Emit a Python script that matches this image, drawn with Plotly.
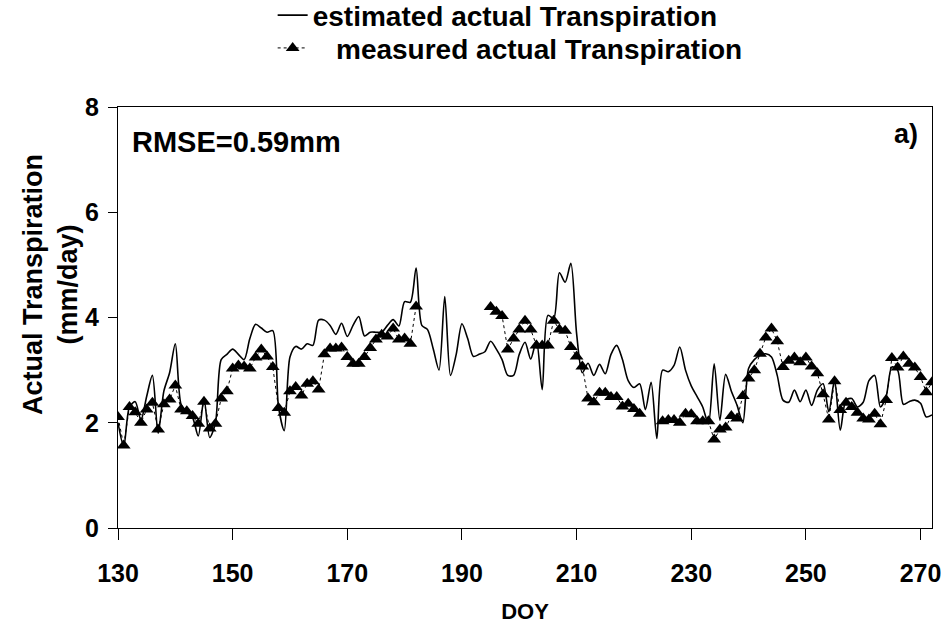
import plotly.graph_objects as go

# ---- data ----
est_doy = list(range(130, 273))
est_vals = [
    2.0, 1.55, 2.3, 2.4, 2.05, 2.5, 2.9, 1.8, 2.6, 2.95,      # 130-139
    3.5, 2.35, 2.2, 2.1, 1.75, 2.45, 1.72, 2.0, 3.2, 3.3,     # 140-149
    3.4, 3.3, 3.2, 3.6, 3.87, 3.8, 3.72, 3.75, 2.3, 1.85,     # 150-159
    3.25, 3.45, 3.4, 3.5, 3.47, 3.95, 3.95, 3.85, 3.68, 3.89, # 160-169
    3.64, 3.85, 4.02, 3.65, 3.72, 3.72, 3.72, 3.85, 3.96, 3.84,  # 170-179
    4.3, 4.29, 4.94, 3.85, 3.77, 3.4, 3.0, 4.4, 2.9, 3.3,     # 180-189
    3.88, 3.6, 3.26, 3.3, 3.35, 3.55, 3.4, 3.2, 2.9, 2.9,     # 190-199
    3.3, 3.53, 3.21, 3.56, 2.63, 4.04, 3.98, 4.85, 4.67, 5.03,  # 200-209
    3.7, 2.95, 3.13, 2.9, 3.11, 2.93, 3.3, 3.47, 3.2, 2.8,    # 210-219
    2.67, 2.74, 2.25, 2.77, 1.7, 3.0, 2.97, 3.09, 3.44, 3.0,  # 220-229
    2.7, 2.5, 2.3, 1.98, 3.12, 2.05, 2.92, 2.6, 2.33, 2.0,    # 230-239
    3.03, 3.2, 3.28, 3.31, 3.25, 2.9, 2.43, 2.39, 2.62, 2.4,  # 240-249
    2.62, 2.33, 2.62, 2.74, 2.21, 2.81, 1.86, 2.43, 2.46, 2.3,  # 250-259
    2.39, 2.8, 2.9, 2.3, 2.5, 3.06, 3.0, 2.35, 2.4, 2.43,     # 260-269
    2.37, 2.11, 2.15,                                         # 270-272
]

meas_doy = list(range(130, 273))
meas_vals = [
    2.11, 1.57, 2.30, 2.20, 2.00, 2.25, 2.38, 1.87, 2.35, 2.44,   # 130-139
    2.71, 2.25, 2.22, 2.13, 1.98, 2.40, 1.89, 1.98, 2.46, 2.60,   # 140-149
    3.03, 3.09, 3.07, 3.03, 3.24, 3.39, 3.26, 3.06, 2.28, 2.19,   # 150-159
    2.60, 2.68, 2.52, 2.74, 2.79, 2.63, 3.30, 3.41, 3.41, 3.43,   # 160-169
    3.25, 3.12, 3.12, 3.25, 3.42, 3.58, 3.67, 3.64, 3.79, 3.58,   # 170-179
    3.60, 3.50, 4.21, None, None, None, None, None, None, None,   # 180-189
    None, None, None, None, None, 4.20, 4.11, 4.03, 3.39, 3.60,   # 190-199
    3.77, 3.94, 3.77, 3.47, 3.47, 3.47, 3.94, 3.77, 3.75, 3.44,   # 200-209
    3.26, 3.07, 2.46, 2.39, 2.57, 2.57, 2.49, 2.49, 2.31, 2.36,   # 210-219
    2.26, 2.17, None, None, None, 2.03, 2.05, 2.05, 2.00, 2.17,   # 220-229
    2.16, 2.03, 2.03, 2.03, 1.68, 1.87, 1.91, 2.13, 2.08, 2.51,   # 230-239
    2.84, 3.00, 3.31, 3.62, 3.79, 3.55, 3.06, 3.18, 3.24, 3.15,   # 240-249
    3.24, 3.07, 2.94, 2.54, 2.06, 2.79, 2.24, 2.38, 2.30, 2.19,   # 250-259
    2.08, 2.06, 2.17, 1.97, 2.43, 3.23, 3.05, 3.26, 3.12, 3.05,   # 260-269
    2.87, 2.58, 2.77,                                             # 270-272
]

x_ticks = [130, 150, 170, 190, 210, 230, 250, 270]
y_ticks = [0, 2, 4, 6, 8]

FONT = "Liberation Sans Narrow, Arial Narrow, Liberation Sans, Arial, sans-serif"
WIDE = "Liberation Sans, Arial, sans-serif"

fig = go.Figure()
fig.add_trace(go.Scatter(
    x=est_doy, y=est_vals, mode="lines",
    name="estimated actual Transpiration", legend="legend",
    line=dict(color="black", width=1.6, shape="spline", smoothing=0.8),
))
fig.add_trace(go.Scatter(
    x=meas_doy, y=meas_vals, mode="lines+markers",
    name="\u00a0\u00a0\u00a0measured actual Transpiration", legend="legend2",
    line=dict(color="black", width=1, dash="dot"),
    marker=dict(symbol="triangle-up", size=12, color="black"),
    connectgaps=False,
))

fig.add_annotation(text="RMSE=0.59mm", xref="paper", yref="paper",
                   x=0.015, y=0.916, xanchor="left", yanchor="middle",
                   showarrow=False, font=dict(family=WIDE, size=29, color="black", weight="bold"))
fig.add_annotation(text="a)", xref="paper", yref="paper",
                   x=0.985, y=0.935, xanchor="right", yanchor="middle",
                   showarrow=False, font=dict(family=WIDE, size=27, color="black", weight="bold"))
fig.add_annotation(text="Actual Transpiration<br>(mm/day)", xref="paper", yref="paper",
                   x=0, xshift=-68, y=0.577, xanchor="center", yanchor="middle",
                   textangle=-90, showarrow=False,
                   font=dict(family=WIDE, size=27, color="black", weight="bold"))

legend_font = dict(family=FONT, size=28, color="black", weight="bold")
fig.update_layout(
    width=947, height=630,
    margin=dict(l=118, r=15, t=107, b=102, autoexpand=False),
    paper_bgcolor="white", plot_bgcolor="white",
    showlegend=True,
    legend=dict(x=0.19, y=1.277, xanchor="left", yanchor="top",
                font=legend_font, bgcolor="rgba(0,0,0,0)"),
    legend2=dict(x=0.19, y=1.199, xanchor="left", yanchor="top",
                 font=legend_font, bgcolor="rgba(0,0,0,0)"),
    xaxis=dict(range=[130, 272], tickvals=x_ticks, ticks="outside", ticklen=11,
               tickcolor="black", showline=True, linecolor="black", linewidth=1,
               mirror=True, showgrid=False, zeroline=False, ticklabelstandoff=12,
               tickfont=dict(family=FONT, size=25, color="black", weight="bold"),
               title=dict(text="DOY", font=dict(family=FONT, size=22, color="black", weight="bold"),
                          standoff=17)),
    yaxis=dict(range=[0, 8], tickvals=y_ticks, ticks="outside", ticklen=9,
               tickcolor="black", showline=True, linecolor="black", linewidth=1,
               mirror=True, showgrid=False, zeroline=False, ticklabelstandoff=4,
               tickfont=dict(family=FONT, size=25, color="black", weight="bold")),
)

fig.write_html("out.html")
